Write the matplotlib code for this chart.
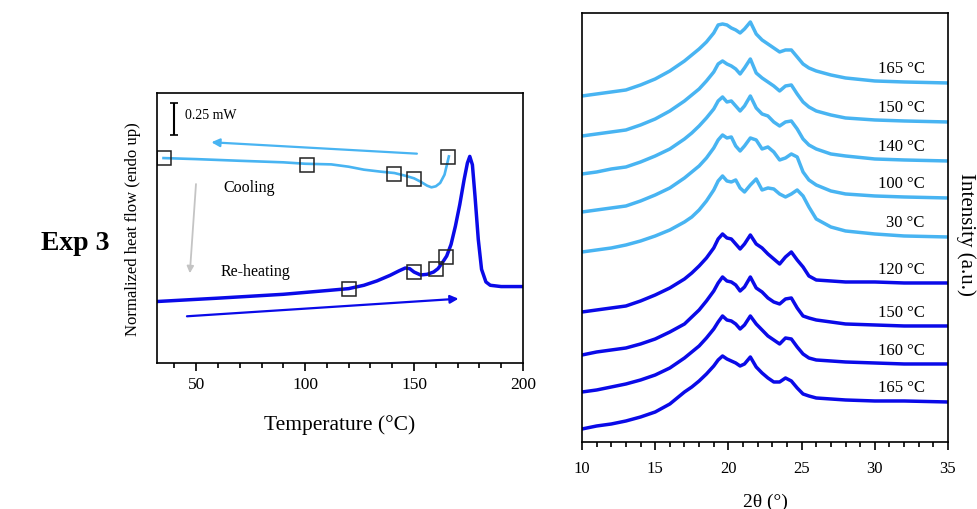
import numpy as np
import matplotlib
matplotlib.use("Agg")
import matplotlib.pyplot as plt
from matplotlib.ticker import MultipleLocator

plt.rcParams["font.family"] = ["Liberation Serif", "DejaVu Serif"]

LIGHT = "#48b4f2"
DARK = "#0a0ae8"

#### DSC data (heat flow in mW, endo up)
cool_T = [35, 50, 70, 90, 100, 112, 120, 127, 135, 141, 146, 150, 153, 156, 158, 160, 162, 164, 165, 166]
cool_hf = [1.590, 1.582, 1.569, 1.557, 1.546, 1.541, 1.523, 1.500, 1.484, 1.474, 1.453, 1.433,
           1.407, 1.376, 1.363, 1.371, 1.397, 1.461, 1.531, 1.603]
heat_T = [32, 60, 90, 110, 120, 127, 133, 139, 143, 146, 148, 150, 153, 156, 159, 161, 163, 165,
          167, 169, 171, 173, 174.5, 175.6, 176.8, 178, 179.5, 181, 183, 185, 190, 200]
heat_hf = [0.477, 0.503, 0.533, 0.562, 0.577, 0.603, 0.637, 0.680, 0.714, 0.737, 0.732, 0.706,
           0.683, 0.688, 0.706, 0.732, 0.778, 0.830, 0.920, 1.062, 1.229, 1.423, 1.551, 1.603,
           1.538, 1.294, 0.959, 0.727, 0.629, 0.603, 0.593, 0.593]
# temperatures where XRD was taken
cool_mark_T = [35, 101, 141, 150, 165.5]
cool_mark_hf = [1.590, 1.538, 1.469, 1.428, 1.598]
heat_mark_T = [120, 150, 160, 164.8]
heat_mark_hf = [0.577, 0.706, 0.732, 0.825]

#### XRD data
two_theta = [10, 11, 12, 13, 14, 15, 16, 17, 17.5, 18, 18.5, 19, 19.3, 19.6, 19.9, 20.2, 20.5,
             20.8, 21.1, 21.5, 21.9, 22.3, 22.7, 23.1, 23.5, 23.9, 24.3, 24.7, 25.1, 25.5, 26,
             27, 28, 30, 32, 35]
xrd_labels = ["165 °C", "150 °C", "140 °C", "100 °C", "30 °C",
              "120 °C", "150 °C", "160 °C", "165 °C"]
xrd_offsets = [346, 306, 268, 230, 190, 130, 87, 50, 13]
xrd_cool_165 = [0, 2, 4, 6, 11, 17, 25, 35, 41, 47, 54, 63, 71, 72, 71, 68, 66, 63, 67, 74, 62, 56,
                52, 48, 44, 46, 46, 39, 32, 28, 25, 21, 18, 15, 14, 13]
xrd_cool_150 = [0, 2, 4, 6, 11, 17, 25, 35, 41, 47, 55, 64, 72, 75, 72, 70, 67, 62, 68, 77, 63, 58,
                54, 50, 45, 50, 51, 42, 34, 29, 25, 21, 18, 16, 15, 14]
xrd_cool_140 = [0, 2, 5, 7, 12, 18, 25, 35, 41, 48, 56, 65, 73, 77, 72, 73, 68, 63, 68, 78, 66, 60,
                58, 52, 48, 52, 53, 45, 35, 29, 25, 20, 18, 15, 14, 13]
xrd_cool_100 = [0, 2, 4, 6, 11, 17, 24, 34, 40, 46, 54, 64, 72, 77, 74, 75, 66, 61, 66, 74, 72, 63,
                65, 60, 52, 54, 58, 55, 40, 32, 27, 21, 18, 16, 15, 14]
xrd_cool_30 = [0, 2, 4, 7, 11, 16, 22, 30, 35, 42, 51, 62, 71, 76, 71, 70, 72, 64, 60, 67, 73, 62,
               64, 63, 58, 55, 58, 62, 56, 45, 33, 25, 21, 18, 16, 15]
xrd_heat_120 = [0, 2, 4, 6, 11, 17, 24, 33, 39, 46, 54, 64, 73, 78, 74, 73, 68, 63, 68, 77, 68, 64,
                58, 53, 48, 55, 60, 52, 45, 36, 32, 31, 30, 30, 29, 29]
xrd_heat_150 = [0, 3, 5, 7, 11, 16, 23, 31, 38, 45, 54, 64, 72, 78, 74, 73, 70, 64, 68, 78, 67, 63,
                57, 53, 51, 56, 57, 47, 39, 37, 35, 33, 31, 30, 29, 29]
xrd_heat_160 = [0, 2, 5, 8, 12, 17, 24, 34, 40, 46, 54, 63, 70, 76, 72, 71, 68, 63, 67, 76, 68, 62,
                56, 52, 48, 54, 53, 45, 38, 34, 32, 31, 30, 29, 28, 28]
xrd_heat_165 = [0, 3, 5, 8, 12, 17, 25, 37, 42, 48, 55, 63, 69, 73, 70, 68, 66, 63, 65, 72, 62, 56,
                51, 47, 47, 51, 48, 41, 35, 33, 31, 30, 29, 28, 28, 27]
xrd_series = [xrd_cool_165, xrd_cool_150, xrd_cool_140, xrd_cool_100, xrd_cool_30,
              xrd_heat_120, xrd_heat_150, xrd_heat_160, xrd_heat_165]
xrd_colors = [LIGHT] * 5 + [DARK] * 4


fig = plt.figure(figsize=(9.78, 5.10), dpi=100)

### Left: DSC
ax1 = fig.add_axes([0.1605, 0.2863, 0.3742, 0.5294])
ax1.plot(cool_T, cool_hf, color=LIGHT, lw=1.9)
ax1.plot(heat_T, heat_hf, color=DARK, lw=2.5)
ax1.plot(cool_mark_T, cool_mark_hf, ls="none", marker="s", ms=10, mfc="none", mec="#222222", mew=1.1)
ax1.plot(heat_mark_T, heat_mark_hf, ls="none", marker="s", ms=10, mfc="none", mec="#222222", mew=1.1)

# direction arrows
ax1.annotate("", xy=(55.7, 1.714), xytext=(152.6, 1.623),
             arrowprops=dict(arrowstyle="-|>", color=LIGHT, lw=1.6, mutation_scale=12))
ax1.annotate("", xy=(47, 0.675), xytext=(50, 1.410),
             arrowprops=dict(arrowstyle="-|>", color="#c4c4c4", lw=1.3, mutation_scale=10))
ax1.annotate("", xy=(171.7, 0.500), xytext=(44.5, 0.361),
             arrowprops=dict(arrowstyle="-|>", color=DARK, lw=1.6, mutation_scale=12))

# scale bar
ax1.errorbar([40], [1.895], yerr=[0.125], color="black", capsize=3, lw=1.5, capthick=1.2)
ax1.text(45, 1.925, "0.25 mW", fontsize=10, va="center")
ax1.text(62.5, 1.363, "Cooling", fontsize=11.5, va="center")
ax1.text(61, 0.714, "Re-heating", fontsize=11.5, va="center")

ax1.set_xlim(32, 200)
ax1.set_ylim(0, 2.095)
ax1.xaxis.set_major_locator(MultipleLocator(50))
ax1.xaxis.set_minor_locator(MultipleLocator(10))
ax1.tick_params(axis="x", which="major", direction="out", length=6, width=1.2, labelsize=12.5)
ax1.tick_params(axis="x", which="minor", direction="out", length=3.5, width=1.2)
ax1.set_yticks([])
ax1.set_xlabel("Temperature (°C)", fontsize=15.5)
ax1.xaxis.set_label_coords(0.5, -0.19)
ax1.set_ylabel("Normalized heat flow (endo up)", fontsize=12)
ax1.yaxis.set_label_coords(-0.045, 0.5)
for s in ax1.spines.values():
    s.set_linewidth(1.2)

### Right: XRD
ax2 = fig.add_axes([0.5951, 0.1314, 0.3742, 0.8412])
for vals, off, col, lab in zip(xrd_series, xrd_offsets, xrd_colors, xrd_labels):
    y = np.array(vals) + off
    ax2.plot(two_theta, y, color=col, lw=2.5)
    y_lab = np.interp(33.4, two_theta, y) + 14
    ax2.text(33.4, y_lab, lab, ha="right", va="center", fontsize=12)

ax2.set_xlim(10, 35)
ax2.set_ylim(0, 429)
ax2.xaxis.set_major_locator(MultipleLocator(5))
ax2.xaxis.set_minor_locator(MultipleLocator(1))
ax2.tick_params(axis="x", which="major", direction="out", length=6, width=1.2, labelsize=12, pad=7)
ax2.tick_params(axis="x", which="minor", direction="out", length=3.5, width=1.2)
ax2.set_yticks([])
ax2.set_xlabel("2θ (°)", fontsize=14)
ax2.xaxis.set_label_coords(0.5, -0.118)
ax2.set_ylabel("Intensity (a.u.)", fontsize=15, rotation=270, va="center")
ax2.yaxis.set_label_position("right")
ax2.yaxis.set_label_coords(1.075, 0.485)
for s in ax2.spines.values():
    s.set_linewidth(1.2)

fig.text(0.0767, 0.5235, "Exp 3", fontsize=20, fontweight="bold", ha="center", va="center")

fig.savefig("out.png", dpi=100)
